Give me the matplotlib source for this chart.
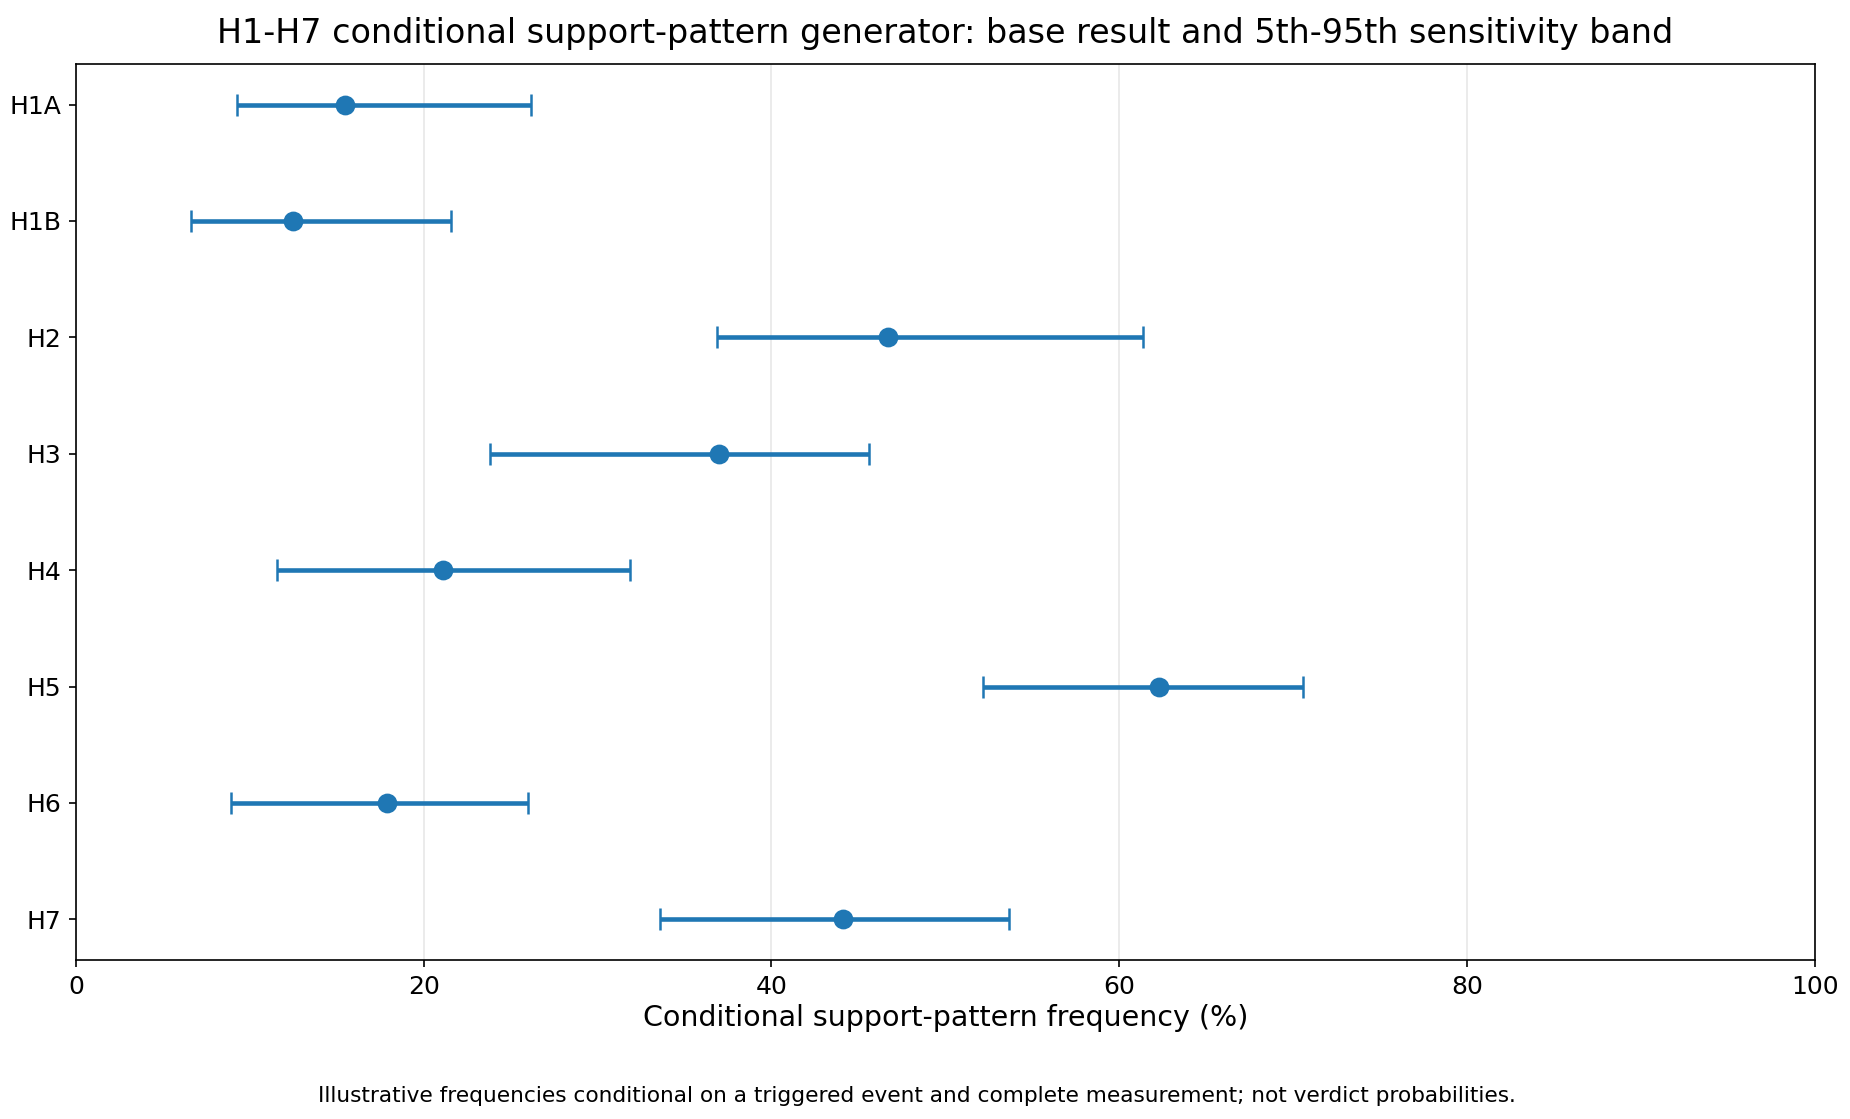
import matplotlib
matplotlib.use("Agg")
import matplotlib.pyplot as plt
import numpy as np

labels = ["H1A", "H1B", "H2", "H3", "H4", "H5", "H6", "H7"]
base = [15.5, 12.5, 46.7, 37.0, 21.1, 62.3, 17.9, 44.1]
p05 = [9.25, 6.65, 36.85, 23.8, 11.55, 52.15, 8.95, 33.6]
p95 = [26.15, 21.55, 61.35, 45.6, 31.85, 70.55, 26.0, 53.65]

base = np.array(base)
lo = base - np.array(p05)
hi = np.array(p95) - base
y = np.arange(len(labels))

fig = plt.figure(figsize=(1850 / 150, 1119 / 150), dpi=150)
ax = fig.add_axes([0.041, 0.142, 0.940, 0.801])
ax.errorbar(base, y, xerr=[lo, hi], fmt="o", color="#1f77b4", ecolor="#1f77b4",
            elinewidth=2.2, capsize=5.5, capthick=1.2, markersize=8.5)
ax.set_yticks(y)
ax.set_yticklabels(labels)
ax.invert_yaxis()
ax.set_xlim(0, 100)
ax.tick_params(labelsize=12)
ax.grid(axis="x", alpha=0.3)
ax.set_axisbelow(True)
ax.set_xlabel("Conditional support-pattern frequency (%)", fontsize=13.7, labelpad=2.5)
ax.set_title("H1-H7 conditional support-pattern generator: base result and 5th-95th sensitivity band",
             fontsize=16, pad=10)
fig.text(0.4955, 0.021, "Illustrative frequencies conditional on a triggered event and complete measurement; not verdict probabilities.",
         ha="center", va="center", fontsize=10.4)
fig.savefig("out.png", dpi=150)
